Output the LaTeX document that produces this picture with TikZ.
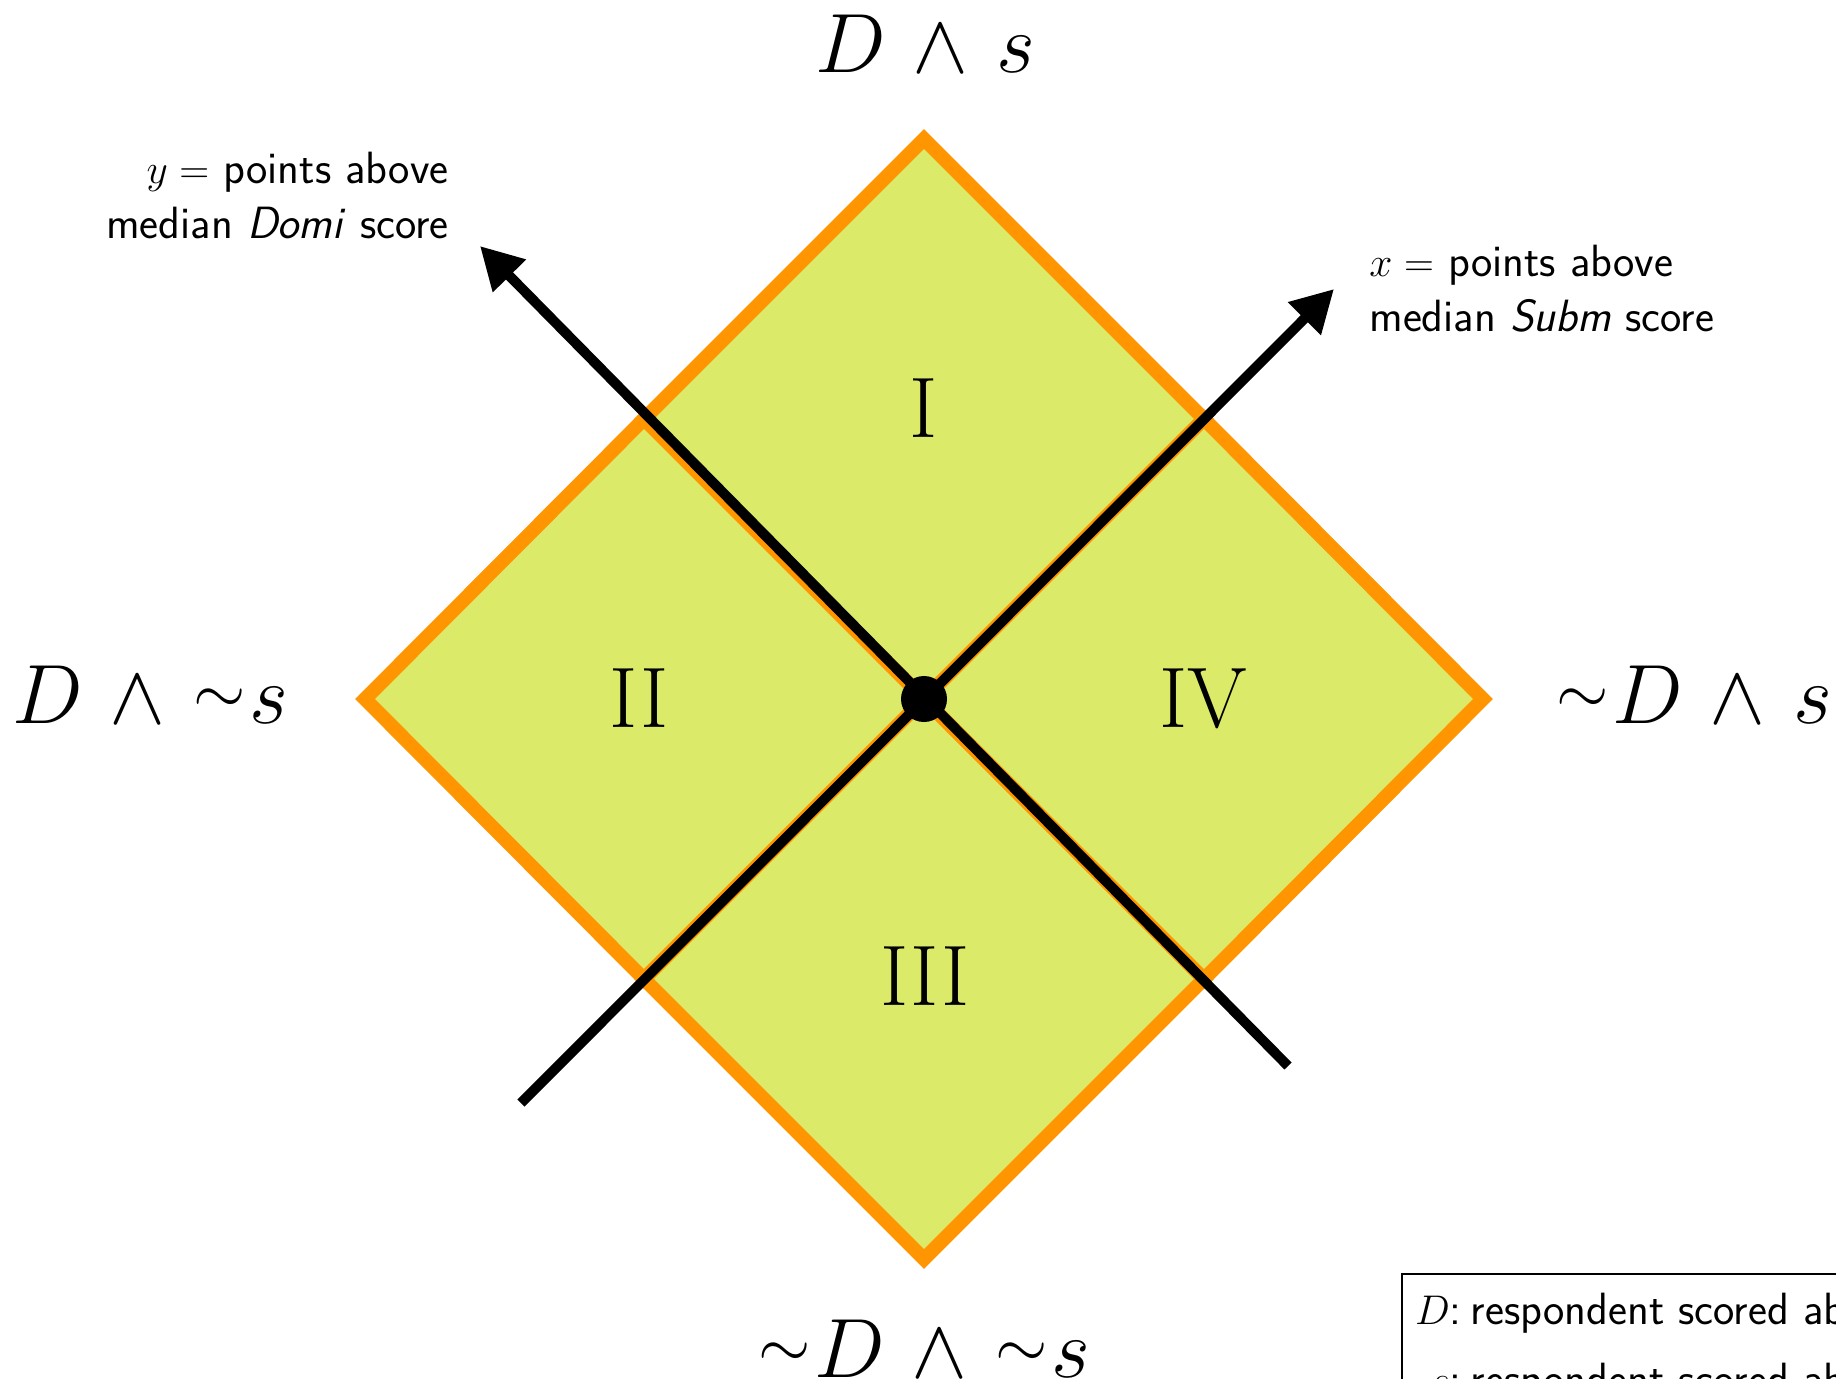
\documentclass[tikz,border=0pt]{standalone}
\usepackage{graphicx}
\usetikzlibrary{arrows.meta}
\definecolor{quadfill}{RGB}{220,234,106}
\definecolor{edgeorange}{RGB}{255,149,0}
\newcommand{\bigmath}[1]{\scalebox{1.69}{\fontsize{24.88}{30}\selectfont$#1$}}
\newcommand{\tld}{\mbox{\raisebox{2.9pt}{\scalebox{0.8}{$\sim$}}}}
\newcommand{\gp}{\mskip1.8mu}
\begin{document}
\begin{tikzpicture}[x=0.5pt,y=-0.5pt,
  quad/.style={fill=quadfill,draw=edgeorange,line width=7pt,line join=miter},
  axisline/.style={draw=black,line width=5pt,-{Triangle[length=21pt,width=22pt]}},
  biglabel/.style={inner sep=0pt},
  numeral/.style={inner sep=0pt,font=\fontsize{43}{50}\selectfont},
  sidelabel/.style={inner sep=0pt,font=\fontsize{22.6}{27.5}\selectfont\sffamily},
  legendbox/.style={draw=black,line width=1pt,fill=white,inner xsep=6.5pt,inner ysep=0.5pt,
    font=\fontsize{22.6}{35}\selectfont\sffamily}]
\useasboundingbox (0,0) rectangle (1836,1378);
\clip (0,0) rectangle (1836,1378);
\fill[white] (0,0) rectangle (1836,1378);
% quadrants
\draw[quad] (924,139) -- (1204,419) -- (924,699) -- (644,419) -- cycle;
\draw[quad] (644,419) -- (924,699) -- (644,979) -- (365,699) -- cycle;
\draw[quad] (924,699) -- (1204,979) -- (924,1259) -- (644,979) -- cycle;
\draw[quad] (1204,419) -- (1483,699) -- (1204,979) -- (924,699) -- cycle;
% numerals
\node[numeral,anchor=base] (qI) at (924,437) {I};
\node[numeral,anchor=base] (qII) at (639,727) {II};
\node[numeral,anchor=base] (qIII) at (925,1005) {III};
\node[numeral,anchor=base] (qIV) at (1203,727) {IV};
% axes
\coordinate (ytail) at (1288,1066);
\coordinate (ytip) at (480,246);
\coordinate (xtail) at (521,1103);
\coordinate (xtip) at (1334,289);
\draw[axisline] (ytail) -- (ytip);
\draw[axisline] (xtail) -- (xtip);
\node[circle,fill=black,minimum size=23pt,inner sep=0pt] (o) at (924,699) {};
% corner labels
\node[biglabel,anchor=base] (ltop) at (925,72) {\bigmath{D\gp\wedge\gp s}};
\node[biglabel,anchor=base] (lleft) at (150,723) {\bigmath{D\gp\wedge\gp\tld\mskip0.8mu s}};
\node[biglabel,anchor=base] (lright) at (1694,723) {\bigmath{\tld\mskip0.8mu D\gp\wedge\gp s}};
\node[biglabel,anchor=base] (lbottom) at (924,1377) {\bigmath{\tld\mskip0.8mu D\gp\wedge\gp\tld\mskip0.8mu s}};
% axis labels
\node[sidelabel,anchor=base east] (ylab) at (449,183)
  {\begin{tabular}[t]{@{}r@{}}$y =$ points above\\ median \textit{Domi} score\end{tabular}};
\node[sidelabel,anchor=base west] (xlab) at (1369,276)
  {\begin{tabular}[t]{@{}l@{}}$x =$ points above\\ median \textit{Subm} score\end{tabular}};
% legend
\node[legendbox,anchor=north west] (legend) at (1401,1273)
  {\begin{tabular}[t]{@{}r@{:\hspace{4.5pt}}l@{}}$D$ & respondent scored above median \textit{Domi} score\\
   $s$ & respondent scored above median \textit{Subm} score\end{tabular}};
\end{tikzpicture}
\end{document}
